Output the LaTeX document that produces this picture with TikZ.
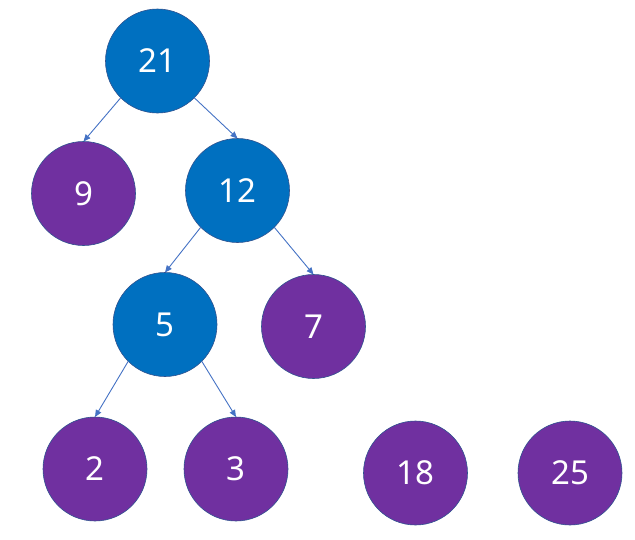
\documentclass[tikz,border=0pt]{standalone}
\usepackage{fontspec}
\setmainfont{Noto Sans}
\usetikzlibrary{arrows.meta}
\definecolor{nodeblue}{HTML}{0070C0}
\definecolor{nodepurple}{HTML}{7030A0}
\definecolor{rimblue}{HTML}{2F528F}
\definecolor{linkblue}{HTML}{4472C4}
\begin{document}
\begin{tikzpicture}[x=1pt,y=-1pt,
  treenode/.style={circle,minimum size=104pt,inner sep=0pt,outer sep=0pt,
    draw=rimblue,line width=0.6pt,text=white,font=\fontsize{33}{33}\selectfont},
  inner/.style={treenode,fill=nodeblue},
  leaf/.style={treenode,fill=nodepurple},
  link/.style={draw=linkblue,line width=0.9pt,-{Triangle[length=7pt,width=6pt]}}]
\useasboundingbox (0,0) rectangle (635,539);
\node[inner] (n21) at (157.5,61)  {21};
\node[leaf]  (n9)  at (83.5,193.5) {9};
\node[inner] (n12) at (237.5,190.5) {12};
\node[inner] (n5)  at (165,324.5) {5};
\node[leaf]  (n7)  at (313.5,326.5) {7};
\node[leaf]  (n2)  at (95,469) {2};
\node[leaf]  (n3)  at (236,469) {3};
\node[leaf]  (n18) at (415.5,473) {18};
\node[leaf]  (n25) at (570,473) {25};
\draw[link] (n21.south west) -- (n9.north);
\draw[link] (n21.south east) -- (n12.north);
\draw[link] (n12.south west) -- (n5.north);
\draw[link] (n12.south east) -- (n7.north);
\draw[link] (n5.south west) -- (n2.north);
\draw[link] (n5.south east) -- (n3.north);
\end{tikzpicture}
\end{document}
